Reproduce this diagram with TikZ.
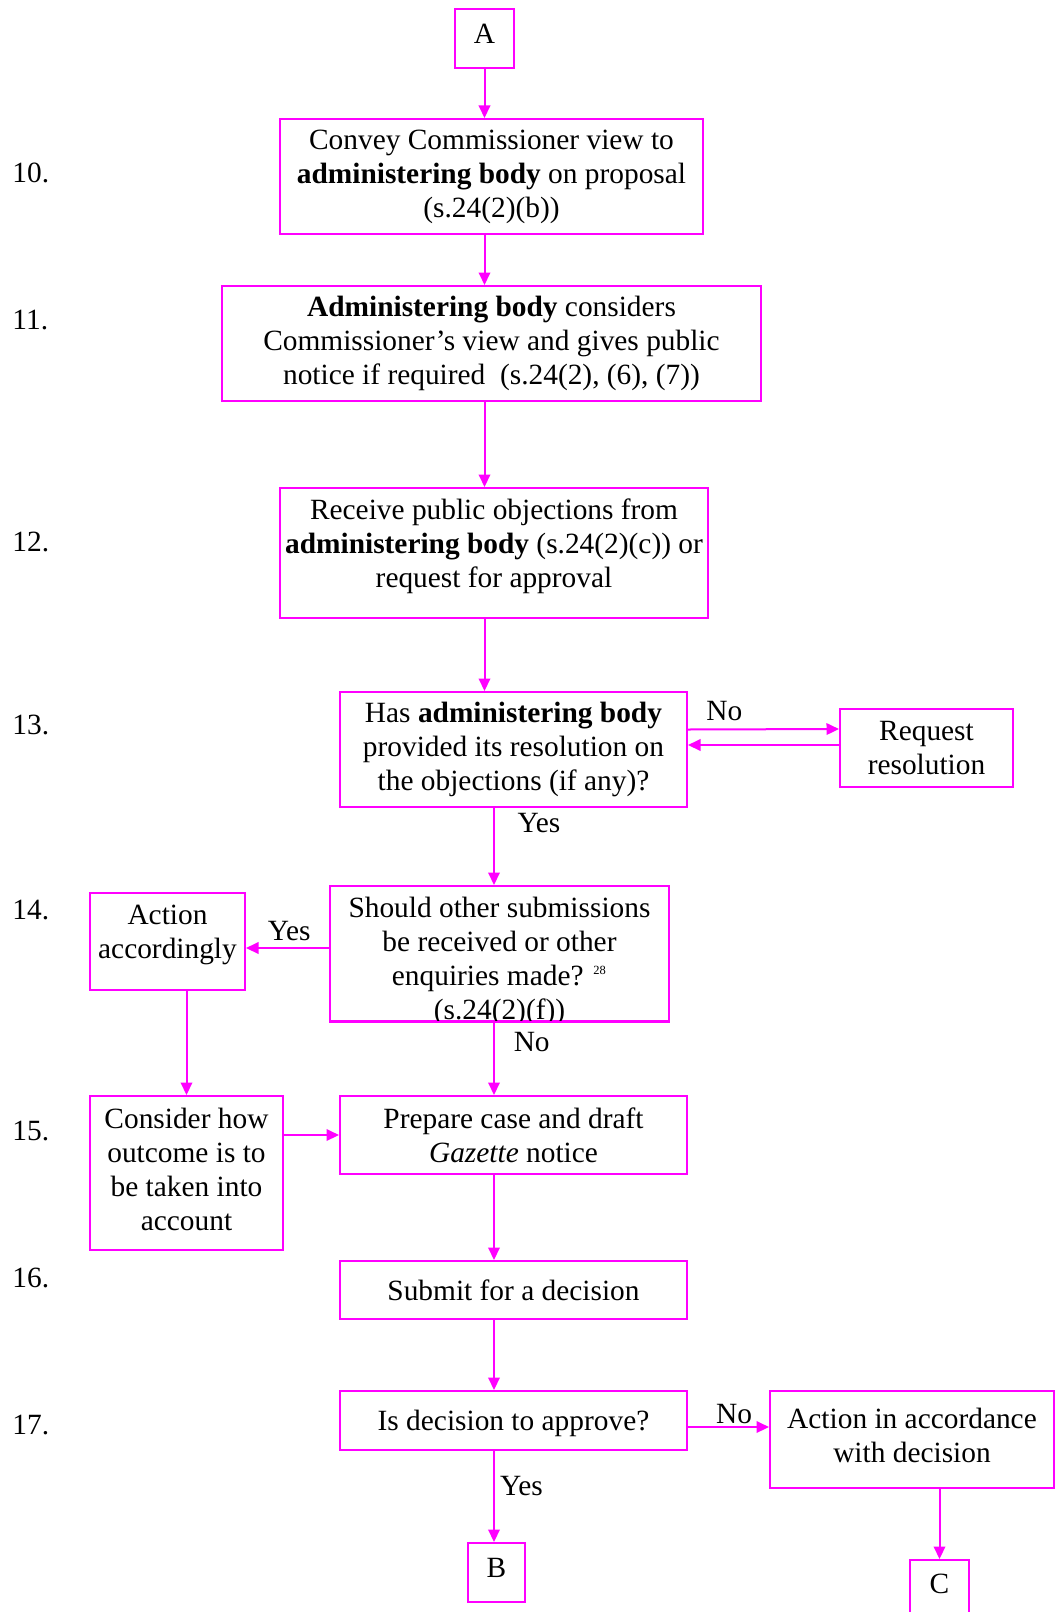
\documentclass[tikz,border=0pt]{standalone}
\usepackage{fontspec}
\setmainfont{Liberation Serif}
\usetikzlibrary{arrows.meta,calc}
\definecolor{flow}{RGB}{255,0,255}
\tikzset{box/.style 2 args={rectangle, draw=flow, line width=0.8pt, inner sep=0pt,
		minimum width=#1*0.4pt, minimum height=#2*0.4pt, align=center}}

\begin{document}
\begin{tikzpicture}[x=0.4pt, y=-0.4pt,
	every node/.style={font=\fontsize{11.75}{13.6}\selectfont},
	flowline/.style={draw=flow, line width=0.8pt, -{Triangle[length=5pt,width=4.6pt]}},
	answer/.style={inner sep=0pt},
	stepno/.style={anchor=west, inner sep=0pt}]
\useasboundingbox (0,0) rectangle (1061,1612);
\coordinate (spine) at (494,0);
\node[box={59}{59}] (A) at (484.5,38.5) {\raisebox{3.4pt}{A}};
\node[box={423}{115}] (b10) at (491.5,176.5) {Convey Commissioner view to\\
	\textbf{administering body} on proposal\\ (s.24(2)(b))};
\node[box={539}{115}] (b11) at (491.5,343.5) {\textbf{Administering body} considers\\
	Commissioner's view and gives public\\ notice if required\ \ (s.24(2), (6), (7))};
\node[box={428}{130}] (b12) at (494,553) {Receive public objections from\\
	\textbf{administering body} (s.24(2)(c)) or\\ request for approval\\[-6pt]};
\node[box={347}{115}] (b13) at (513.5,749.5) {Has \textbf{administering body}\\
	provided its resolution on\\ the objections (if any)?};
\node[box={173}{78}] (req) at (926.5,748) {Request\\ resolution};
\node[box={339}{135}, text height=53.2pt, text depth=0.8pt] (b14) at (499.5,953.5) {Should other submissions\\
	be received or other\\ enquiries made? \textsuperscript{\tiny 28}\\ (s.24(2)(f))};
\fill[white] ($(b14.south west)+(1,1)$) rectangle ($(b14.south east)+(-1,12)$);
\draw[flow, line width=0.8pt] (b14.south west) -- (b14.south east);
\node[box={155}{97}] (act) at (167.5,941.5) {Action\\ accordingly\\[-6pt]};
\node[box={193}{154}] (cons) at (186.5,1173) {Consider how\\ outcome is to\\ be taken into\\ account\\[-10.4pt]};
\node[box={347}{78}] (prep) at (513.5,1135) {Prepare case and draft\\ \textit{Gazette} notice};
\node[box={347}{58}] (sub) at (513.5,1290) {Submit for a decision};
\node[box={347}{59}, text height=10pt, text depth=2pt] (dec) at (513.5,1420.5) {Is decision to approve?};
\node[box={284}{97}] (acc) at (912,1439.5) {Action in accordance\\ with decision\\[-10.4pt]};
\node[box={57}{59}] (B) at (496.5,1572.5) {\raisebox{4pt}{B}};
\node[box={59}{59}] (C) at (939.5,1589.5) {\raisebox{4.4pt}{C}};

\node[stepno] (n10) at (12,173) {10.};
\node[stepno] (n11) at (12,320) {11.};
\node[stepno] (n12) at (12,542) {12.};
\node[stepno] (n13) at (12,725) {13.};
\node[stepno] (n14) at (12,910) {14.};
\node[stepno] (n15) at (12,1131) {15.};
\node[stepno] (n16) at (12,1278) {16.};
\node[stepno] (n17) at (12,1425) {17.};

\draw[flowline] (A.south) -- (A.south |- b10.north);
\draw[flowline] (b10.south -| A.south) -- (b11.north -| A.south);
\draw[flowline] (b11.south -| A.south) -- (b12.north -| A.south);
\draw[flowline] (b12.south -| A.south) -- (b13.north -| A.south);
\draw[flowline] (b13.south -| spine) -- node[answer, pos=0.2, anchor=west, xshift=9pt] {Yes} (b14.north -| spine);
\draw[flowline] ($(b13.east)+(0,-20)$) -- node[answer, pos=0.24, anchor=south, yshift=3pt] {No} ($(req.west)+(0,-19)$);
\draw[flowline] ($(req.west)+(0,-3)$) -- ($(b13.east)+(0,-4.5)$);
\draw[flowline] ($(b14.west)+(0,-5.5)$) -- node[answer, pos=0.48, anchor=south, yshift=2.5pt] {Yes} (act.east |- {$(b14.west)+(0,-5.5)$});
\draw[flowline] (cons.north |- act.south) -- (cons.north);
\draw[flowline] (b14.south -| spine) -- node[answer, pos=0.28, anchor=west, xshift=7.5pt] {No} (prep.north -| spine);
\draw[flowline] (cons.east |- prep.west) -- (prep.west);
\draw[flowline] (prep.south -| spine) -- (sub.north -| spine);
\draw[flowline] (sub.south -| spine) -- (dec.north -| spine);
\draw[flowline] (dec.south -| spine) -- node[answer, pos=0.38, anchor=west, xshift=2pt] {Yes} (B.north -| spine);
\draw[flowline] ($(dec.east)+(0,6.5)$) -- node[answer, pos=0.57, anchor=south, yshift=1pt] {No} (acc.west |- {$(dec.east)+(0,6.5)$});
\draw[flowline] (C.north |- acc.south) -- (C.north);
\end{tikzpicture}
\end{document}
